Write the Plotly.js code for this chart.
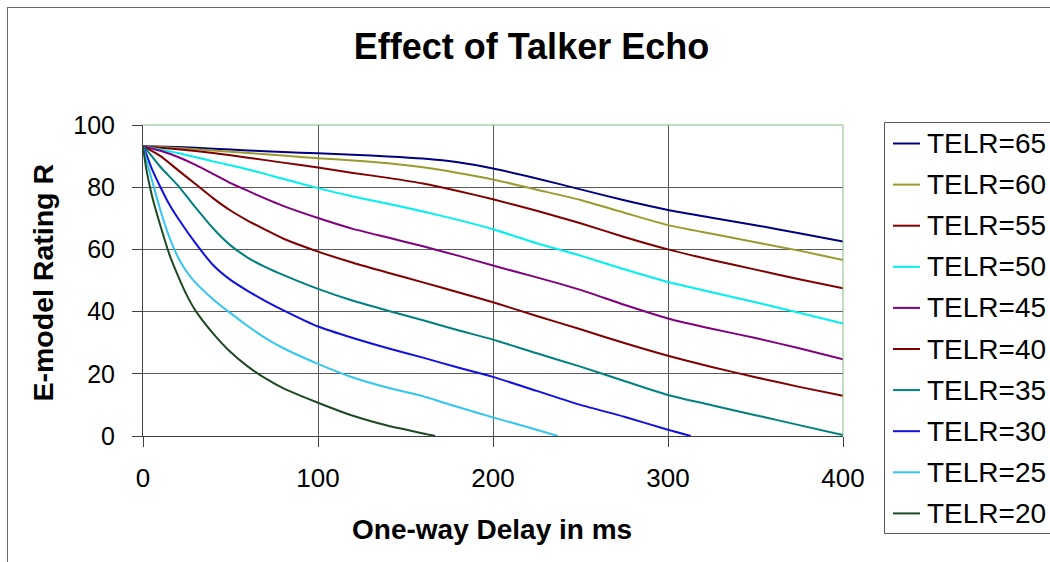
<!DOCTYPE html>
<html>
<head>
<meta charset="utf-8">
<script src="https://cdn.plot.ly/plotly-3.0.1.min.js"></script>
<style>
html,body{margin:0;padding:0;background:#ffffff;}
#chart{width:1050px;height:562px;}
</style>
</head>
<body>
<div id="chart"></div>
<script>
// ---- Data ----
const seriesNames = ["TELR=65","TELR=60","TELR=55","TELR=50","TELR=45","TELR=40","TELR=35","TELR=30","TELR=25","TELR=20"];
const seriesColors = ["#000080","#9c9a2e","#800000","#00f0f0","#800080","#800000","#008080","#1010e0","#33c6f0","#1e4a22"];

const delay65 = [0,20,40,60,80,100,120,140,160,180,200,225,250,275,300,325,350,375,400];
const rating65 = [93.2,92.9,92.4,91.8,91.3,90.9,90.4,89.9,89.2,88.0,86.0,82.8,79.3,75.8,72.7,70.2,67.8,65.2,62.5];

const delay60 = [0,20,40,60,80,100,120,140,160,180,200,225,250,275,300,325,350,375,400];
const rating60 = [93.2,92.6,91.8,91.0,90.2,89.3,88.6,87.7,86.4,84.6,82.5,79.2,75.9,71.8,67.8,65.0,62.3,59.6,56.6];

const delay55 = [0,20,40,60,80,100,120,140,160,180,200,225,250,275,300,325,350,375,400];
const rating55 = [93.2,92.2,91.0,89.5,87.9,86.3,84.6,83.0,81.2,78.8,76.1,72.4,68.4,64.0,60.0,56.6,53.5,50.4,47.5];

const delay50 = [0,20,40,60,80,100,120,140,160,180,200,225,250,275,300,325,350,375,400];
const rating50 = [93.2,91.0,88.3,85.7,82.7,79.7,77.0,74.7,72.2,69.5,66.5,62.0,58.0,53.6,49.5,46.2,43.0,39.6,36.2];

const delay45 = [0,10,20,30,40,50,60,70,80,100,120,140,160,180,200,225,250,275,300,325,350,375,400];
const rating45 = [93.2,91.7,89.7,87.2,84.3,81.3,78.8,76.3,74.0,70.1,66.6,63.8,61.0,58.0,54.8,51.0,47.0,42.2,37.8,34.5,31.5,28.2,24.7];

const delay40 = [0,10,20,30,40,50,60,70,80,100,120,140,160,180,200,225,250,275,300,325,350,375,400];
const rating40 = [93.2,90.0,85.5,81.0,76.5,72.5,69.2,66.3,63.5,59.3,55.7,52.5,49.4,46.2,43.0,38.6,34.3,29.9,25.8,22.2,18.9,15.8,12.9];

const delay35 = [0,2,5,10,20,30,40,50,60,70,80,100,120,140,160,180,200,225,250,275,300,325,350,375,400];
const rating35 = [93.2,92.0,90.0,86.5,80.5,73.5,66.8,61.3,57.3,54.3,51.8,47.3,43.5,40.3,37.2,34.0,31.0,26.6,22.3,17.7,13.2,9.9,6.7,3.5,0.3];

const delay30 = [0,2,5,10,15,20,30,40,50,60,70,80,100,120,140,160,180,200,225,250,275,300,313];
const rating30 = [93.2,90.5,86.0,80.0,74.5,70.0,62.0,55.0,50.2,46.6,43.4,40.5,35.2,31.5,28.2,25.2,22.0,19.0,14.5,10.0,6.2,2.0,0];

const delay25 = [0,2,5,10,15,20,25,30,40,50,60,70,80,100,120,140,160,180,200,220,237];
const rating25 = [93.2,88.5,82.5,72.5,64.0,57.5,52.8,49.3,44.0,39.5,35.3,31.5,28.3,23.2,18.8,15.5,12.8,9.3,6.0,2.8,0];

const delay20 = [0,1,2,4,6,10,15,20,25,30,40,50,60,70,80,100,120,140,150,160,167];
const rating20 = [93.2,89.0,85.5,80.0,75.3,67.5,58.5,51.5,45.3,40.3,33.0,27.0,22.3,18.5,15.4,10.7,6.5,3.3,2.1,0.8,0];

const xTickVals = [0,100,200,300,400];
const yTickVals = [0,20,40,60,80,100];

const chartTitle = "Effect of Talker Echo";
const xTitle = "One-way Delay in ms";
const yTitle = "E-model Rating R";

// ---- Build traces ----
const delays = [delay65,delay60,delay55,delay50,delay45,delay40,delay35,delay30,delay25,delay20];
const ratings = [rating65,rating60,rating55,rating50,rating45,rating40,rating35,rating30,rating25,rating20];

const FONT = "Liberation Sans, Arial, Helvetica, sans-serif";

const traces = seriesNames.map((name, i) => ({
  type: "scatter",
  mode: "lines",
  name: name,
  x: delays[i],
  y: ratings[i],
  line: {color: seriesColors[i], width: 2, shape: "spline", smoothing: 0.6},
  hoverinfo: "x+y+name"
}));

// plot area geometry (pixels) for paper-coordinate conversions
const W = 1050, H = 562;
const L = 143, R = 843, T = 125, B = 436;
const px = v => (v - L) / (R - L);
const py = v => (B - v) / (B - T);

const shapes = [];
const annotations = [];

// outer chart frame (top and left visible)
shapes.push({type:"line", xref:"paper", yref:"paper", x0:px(7), x1:px(1060), y0:py(7.5), y1:py(7.5), line:{color:"#6a6a6a", width:1}});
shapes.push({type:"line", xref:"paper", yref:"paper", x0:px(7.5), x1:px(7.5), y0:py(7), y1:py(570), line:{color:"#6a6a6a", width:1}});

// green plot-area border (top and right)
shapes.push({type:"line", xref:"paper", yref:"paper", x0:0, x1:1, y0:1, y1:1, layer:"above", line:{color:"#80bf80", width:1}});
shapes.push({type:"line", xref:"paper", yref:"paper", x0:1, x1:1, y0:0, y1:1, layer:"above", line:{color:"#80bf80", width:1}});

// legend box
shapes.push({type:"rect", xref:"paper", yref:"paper", x0:px(884.5), x1:px(1080), y0:py(533.5), y1:py(122.5), line:{color:"#555555", width:1}, fillcolor:"rgba(0,0,0,0)"});
seriesNames.forEach((name, i) => {
  const yc = 143.5 + 41.1 * i;
  shapes.push({type:"line", xref:"paper", yref:"paper", x0:px(893), x1:px(920), y0:py(yc), y1:py(yc), line:{color:seriesColors[i], width:2}});
  annotations.push({xref:"paper", yref:"paper", x:px(926), y:py(yc), xanchor:"left", yanchor:"middle", text:name, showarrow:false, borderpad:0, font:{family:FONT, size:28, color:"#000000"}});
});

// axis titles
annotations.push({xref:"paper", yref:"paper", x:px(491.5), y:py(529), xanchor:"center", yanchor:"middle", text:xTitle, showarrow:false, borderpad:0, font:{family:FONT, size:28, color:"#000000", weight:"bold"}});
annotations.push({xref:"paper", yref:"paper", x:px(42), y:py(282.5), xanchor:"center", yanchor:"middle", text:yTitle, textangle:-90, showarrow:false, borderpad:0, font:{family:FONT, size:28.5, color:"#000000", weight:"bold"}});

const layout = {
  width: W,
  height: H,
  paper_bgcolor: "#ffffff",
  plot_bgcolor: "#ffffff",
  margin: {l: L, r: W - R, t: T, b: H - B, pad: 0},
  showlegend: false,
  title: {
    text: chartTitle,
    xref: "container", yref: "container",
    x: 531.5 / W, y: 1 - 46 / H,
    xanchor: "center", yanchor: "middle",
    font: {family: FONT, size: 36, color: "#000000", weight: "bold"}
  },
  xaxis: {
    range: [0, 400],
    tickmode: "array",
    tickvals: xTickVals,
    ticktext: xTickVals.map(String),
    showgrid: true, gridcolor: "#5a5a5a", gridwidth: 1,
    zeroline: false,
    showline: true, linecolor: "#404040", linewidth: 1,
    ticks: "outside", ticklen: 10, tickcolor: "#404040", tickwidth: 1,
    ticklabelstandoff: 9,
    tickfont: {family: FONT, size: 26, color: "#000000"},
    fixedrange: true
  },
  yaxis: {
    range: [0, 100],
    tickmode: "array",
    tickvals: yTickVals,
    ticktext: yTickVals.map(String),
    showgrid: true, gridcolor: "#5a5a5a", gridwidth: 1,
    zeroline: false,
    showline: true, linecolor: "#404040", linewidth: 1,
    ticks: "outside", ticklen: 10, tickcolor: "#404040", tickwidth: 1,
    ticklabelstandoff: 12,
    tickfont: {family: FONT, size: 25, color: "#000000"},
    fixedrange: true
  },
  shapes: shapes,
  annotations: annotations
};

Plotly.newPlot("chart", traces, layout, {displayModeBar: false, responsive: false});
</script>
</body>
</html>
